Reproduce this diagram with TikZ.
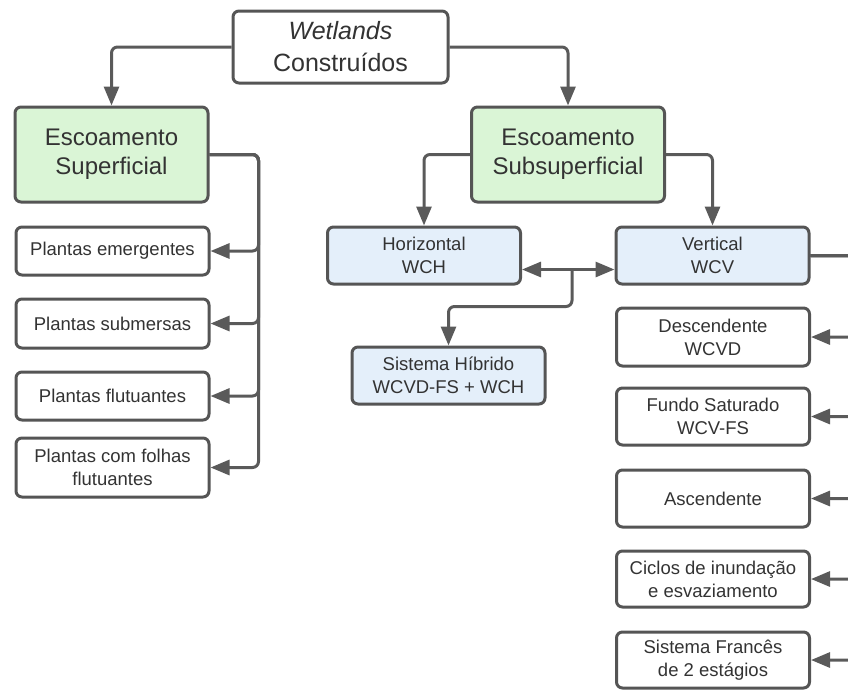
\documentclass[tikz,border=0pt]{standalone}
\usepackage{fontspec}
\setmainfont{Liberation Sans}
\usetikzlibrary{arrows.meta}
\definecolor{boxline}{RGB}{85,85,85}
\definecolor{linegray}{RGB}{90,90,90}
\definecolor{textgray}{RGB}{51,51,51}
\definecolor{supgreen}{RGB}{218,245,214}
\definecolor{subblue}{RGB}{228,239,250}
\tikzset{
	box/.style={draw=boxline, line width=3pt, rounded corners=6pt, fill=white,
		text=textgray, align=center, inner sep=0pt},
	bigbox/.style={box, fill=supgreen, minimum width=193pt, minimum height=95pt,
		font=\fontsize{24}{29}\selectfont},
	smallbox/.style={box, minimum width=193pt, font=\fontsize{18.5}{23}\selectfont},
	bluebox/.style={smallbox, fill=subblue, minimum height=57pt},
	conn/.style={draw=linegray, line width=3pt, rounded corners=6pt,
		-{Triangle[length=19pt,width=15pt]}},
}
\begin{document}
\begin{tikzpicture}[x=1pt, y=-1pt]
	\useasboundingbox (0,0) rectangle (848,689);
	\clip (0,0) rectangle (848,689);
	% Oberste Ebene
	\node[box, minimum width=215pt, minimum height=72pt,
		font=\fontsize{25}{32}\selectfont] (wc) at (340.5, 47)
		{\textit{Wetlands}\\Construídos};
	\node[bigbox] (sup) at (111.5, 154.5) {Escoamento\\Superficial};
	\node[bigbox] (sub) at (568, 154.5) {Escoamento\\Subsuperficial};
	% linke Spalte
	\node[smallbox, minimum height=48pt] (emerg) at (112.5, 251) {Plantas emergentes};
	\node[smallbox, minimum height=49pt] (subm) at (112.5, 323.5) {Plantas submersas};
	\node[smallbox, minimum height=48pt] (flut) at (112.5, 396) {Plantas flutuantes};
	\node[smallbox, minimum height=59pt] (folhas) at (112.5, 467.5)
		{Plantas com folhas\\flutuantes};
	% Mitte
	\node[bluebox] (hor) at (424, 255.5) {Horizontal\\WCH};
	\node[bluebox] (ver) at (712.5, 255.5) {Vertical\\WCV};
	\node[bluebox] (hib) at (448.5, 375.5) {Sistema Híbrido\\WCVD-FS + WCH};
	% rechte Spalte
	\node[smallbox, minimum height=58pt] (desc) at (713, 337) {Descendente\\WCVD};
	\node[smallbox, minimum height=57pt] (fundo) at (713, 416.5) {Fundo Saturado\\WCV-FS};
	\node[smallbox, minimum height=57pt] (asc) at (713, 498.5) {Ascendente};
	\node[smallbox, minimum height=56pt] (ciclos) at (713, 579)
		{Ciclos de inundação\\e esvaziamento};
	\node[smallbox, minimum height=56pt] (frances) at (713, 660)
		{Sistema Francês\\de 2 estágios};
	% Verbindungen
	\draw[conn] (wc.west) -| (sup.north);
	\draw[conn] (wc.east) -| (sub.north);
	\draw[conn] (sub.west) -| (hor.north);
	\draw[conn] (sub.east) -| (ver.north);
	\foreach \t in {emerg,subm,flut,folhas}
		\draw[conn] (sup.east) -- ++(49,0) |- (\t.east);
	\draw[conn, {Triangle[length=19pt,width=15pt]}-{Triangle[length=19pt,width=15pt]}]
		([yshift=-14pt]hor.east) -- ([yshift=-14pt]ver.west);
	\coordinate (hj) at (572, 269.5);
	\draw[conn] (hj) -- ++(0,37) -| (hib.north);
	\foreach \t in {desc,fundo,asc,ciclos,frances}
		\draw[conn] (ver.east) -- ++(60,0) |- (\t.east);
\end{tikzpicture}
\end{document}
